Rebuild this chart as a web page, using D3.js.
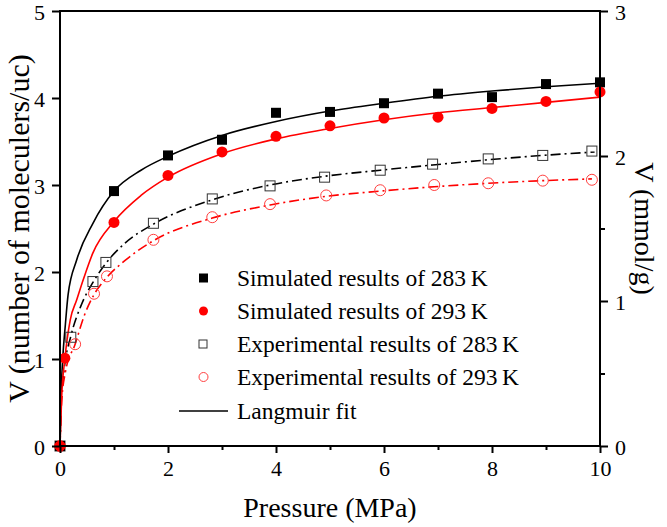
<!DOCTYPE html>
<html><head><meta charset="utf-8">
<script src="https://cdn.jsdelivr.net/npm/d3@7"></script>
<style>body{margin:0;background:#fff}svg{display:block}</style>
</head><body><svg id="c" width="667" height="527"></svg>
<script>
// Data (pressure in MPa, V in molecules/uc)
const simP283 = [0, 1, 2, 3, 4, 5, 6, 7, 8, 9, 10];
const simV283 = [0, 2.93, 3.34, 3.52, 3.83, 3.84, 3.94, 4.05, 4.01, 4.16, 4.18];
const simP293 = [0, 0.09, 1, 2, 3, 4, 5, 6, 7, 8, 9, 10];
const simV293 = [0, 1.01, 2.57, 3.11, 3.38, 3.56, 3.68, 3.77, 3.78, 3.88, 3.96, 4.07];
const expP283 = [0, 0.2, 0.61, 0.85, 1.73, 2.82, 3.89, 4.9, 5.93, 6.9, 7.93, 8.94, 9.85];
const expV283 = [0, 1.25, 1.89, 2.11, 2.56, 2.84, 2.99, 3.09, 3.17, 3.24, 3.30, 3.34, 3.39];
const expP293 = [0, 0.28, 0.63, 0.87, 1.73, 2.82, 3.89, 4.93, 5.93, 6.93, 7.93, 8.94, 9.85];
const expV293 = [0, 1.17, 1.75, 1.95, 2.37, 2.63, 2.78, 2.88, 2.94, 3.00, 3.02, 3.05, 3.06];
// Langmuir fit curves
const fitSimP283 = [0, 0.02, 0.05, 0.1, 0.15, 0.31, 0.61, 1, 1.5, 2, 3, 4, 5, 6, 7, 8, 9, 10];
const fitSimV283 = [0, 0.6, 1.0, 1.4, 1.74, 2.14, 2.56, 2.93, 3.17, 3.33, 3.57, 3.73, 3.85, 3.94, 4.02, 4.08, 4.13, 4.17];
const fitSimP293 = [0, 0.03, 0.09, 0.19, 0.31, 0.43, 0.61, 1, 1.5, 2, 3, 4, 5, 6, 7, 8, 9, 10];
const fitSimV293 = [0, 0.55, 1.0, 1.45, 1.68, 1.91, 2.22, 2.58, 2.88, 3.09, 3.36, 3.53, 3.65, 3.75, 3.83, 3.89, 3.95, 4.01];
const fitExpP283 = [0, 0.02, 0.08, 0.2, 0.4, 0.61, 0.85, 1.2, 1.73, 2.82, 3.89, 4.9, 5.93, 6.9, 7.93, 8.94, 9.9];
const fitExpV283 = [0, 0.5, 0.9, 1.26, 1.63, 1.88, 2.1, 2.33, 2.55, 2.83, 3.0, 3.1, 3.17, 3.23, 3.29, 3.34, 3.38];
const fitExpP293 = [0, 0.03, 0.1, 0.28, 0.45, 0.63, 0.87, 1.2, 1.73, 2.82, 3.89, 4.93, 5.93, 6.93, 7.93, 8.94, 9.85];
const fitExpV293 = [0, 0.5, 0.85, 1.17, 1.5, 1.74, 1.94, 2.13, 2.36, 2.62, 2.77, 2.87, 2.93, 2.98, 3.02, 3.05, 3.07];
const xTicks = [0, 2, 4, 6, 8, 10];
const xMinor = [1, 3, 5, 7, 9];
const yTicks = [0, 1, 2, 3, 4, 5];
const y2Ticks = [0, 1, 2, 3];
const y2Minor = [0.5, 1.5, 2.5];
const legendLabels = ["Simulated results of 283\u2009K", "Simulated results of 293\u2009K",
  "Experimental results of 283\u2009K", "Experimental results of 293\u2009K", "Langmuir fit"];

const FONT = "'Liberation Serif', Tinos, 'Times New Roman', 'DejaVu Serif', serif";
const L = 60, R = 600, T = 11, B = 446;
const svg = d3.select("#c");
const x = d3.scaleLinear().domain([0, 10]).range([L, R]);
const y = d3.scaleLinear().domain([0, 5]).range([B, T]);
const y2 = d3.scaleLinear().domain([0, 3]).range([B, T]);
const zip = (a, b) => a.map((v, i) => [v, b[i]]);
const line = d3.line().x(d => x(d[0])).y(d => y(d[1])).curve(d3.curveMonotoneX);

const plot = svg.append("g");
function curve(P, V, color, dash) {
  plot.append("path").datum(zip(P, V)).attr("d", line).attr("fill", "none")
    .attr("stroke", color).attr("stroke-width", 1.6).attr("stroke-dasharray", dash || null);
}
curve(fitExpP283, fitExpV283, "#000", "10,4,2,4");
curve(fitExpP293, fitExpV293, "#ff0000", "10,4,2,4");
curve(fitSimP283, fitSimV283, "#000");
curve(fitSimP293, fitSimV293, "#ff0000");

function squares(P, V, filled) {
  plot.selectAll(null).data(zip(P, V)).enter().append("rect")
    .attr("x", d => x(d[0]) - 5).attr("y", d => y(d[1]) - 5).attr("width", 10).attr("height", 10)
    .attr("fill", filled ? "#000" : "#fff").attr("fill-opacity", filled ? 1 : 0)
    .attr("stroke", filled ? "none" : "#333").attr("stroke-width", 1);
}
function circles(P, V, filled) {
  plot.selectAll(null).data(zip(P, V)).enter().append("circle")
    .attr("cx", d => x(d[0])).attr("cy", d => y(d[1])).attr("r", 5.5)
    .attr("fill", filled ? "#ff0000" : "none")
    .attr("stroke", filled ? "none" : "#ff4040").attr("stroke-width", 1);
}
squares(expP283, expV283, false);
circles(expP293, expV293, false);
squares(simP283, simV283, true);
circles(simP293, simV293, true);

// axes frame
svg.append("rect").attr("x", L).attr("y", T).attr("width", R - L).attr("height", B - T)
  .attr("fill", "none").attr("stroke", "#000").attr("stroke-width", 2);

const fs = 22;
svg.append("g").attr("transform", `translate(0,${B})`)
  .call(d3.axisBottom(x).tickValues(xTicks).tickSize(7).tickPadding(7).tickFormat(d3.format("d")));
svg.append("g").attr("transform", `translate(0,${B})`)
  .call(d3.axisBottom(x).tickValues(xMinor).tickSize(4).tickFormat(""));
svg.append("g").attr("transform", `translate(${L},0)`)
  .call(d3.axisLeft(y).tickValues(yTicks).tickSize(8).tickPadding(7).tickFormat(d3.format("d")));
svg.append("g").attr("transform", `translate(${R},0)`)
  .call(d3.axisRight(y2).tickValues(y2Ticks).tickSize(8).tickPadding(7).tickFormat(d3.format("d")));
svg.append("g").attr("transform", `translate(${R},0)`)
  .call(d3.axisRight(y2).tickValues(y2Minor).tickSize(5).tickFormat(""));
svg.selectAll(".domain").remove();
svg.selectAll(".tick line").attr("stroke", "#000").attr("stroke-width", 2);
svg.selectAll(".tick text").style("font-family", FONT).style("font-size", fs + "px").attr("fill", "#000")
  .attr("dy", function() { return d3.select(this).attr("dy") === "0.32em" ? "0.38em" : d3.select(this).attr("dy"); });

// axis titles
function txt(sel) { return sel.style("font-family", FONT).attr("fill", "#000"); }
txt(svg.append("text")).attr("x", (L + R) / 2).attr("y", 517).attr("text-anchor", "middle")
  .style("font-size", "28px").text("Pressure (MPa)");
txt(svg.append("text")).attr("transform", `translate(29,${(T + B) / 2}) rotate(-90)`).attr("text-anchor", "middle")
  .style("font-size", "30px").text("V (number of moleculers/uc)");
txt(svg.append("text")).attr("transform", `translate(635,${(T + B) / 2}) rotate(90)`).attr("text-anchor", "middle")
  .style("font-size", "28px").text("V (mmol/g)");

// legend
const lg = svg.append("g");
const ly = [278, 311, 344, 377, 411];
const lfs = 23.5;
lg.append("rect").attr("x", 199).attr("y", ly[0] - 4.5).attr("width", 9).attr("height", 9).attr("fill", "#000");
lg.append("circle").attr("cx", 203.5).attr("cy", ly[1]).attr("r", 4.5).attr("fill", "#ff0000");
lg.append("rect").attr("x", 199).attr("y", ly[2] - 4).attr("width", 8).attr("height", 8).attr("fill", "none").attr("stroke", "#333");
lg.append("circle").attr("cx", 203.5).attr("cy", ly[3]).attr("r", 4.5).attr("fill", "none").attr("stroke", "#ff4040");
lg.append("line").attr("x1", 179).attr("x2", 228).attr("y1", ly[4]).attr("y2", ly[4]).attr("stroke", "#000").attr("stroke-width", 1.6);
legendLabels.forEach((t, i) => {
  txt(lg.append("text")).attr("x", 237).attr("y", ly[i]).attr("dy", "0.35em").style("font-size", lfs + "px").text(t);
});
</script></body></html>
